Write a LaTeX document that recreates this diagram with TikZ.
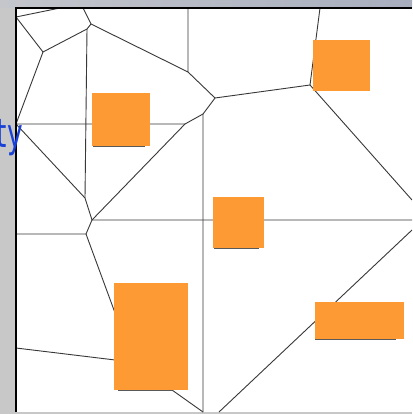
\documentclass[tikz,border=0pt]{standalone}
\usepackage{fontspec}
\usepackage{graphicx}
\newfontfamily\slidefont{DejaVu Sans}
\definecolor{boxorange}{RGB}{254,154,52}
\definecolor{slideblue}{RGB}{25,65,215}
\definecolor{stripgray}{RGB}{200,200,200}
\definecolor{barleft}{RGB}{196,198,204}
\definecolor{barright}{RGB}{168,174,190}
\begin{document}
\begin{tikzpicture}[x=1pt,y=-1pt,
  vline/.style={draw=black!78,line width=0.9pt,line join=round},
  border/.style={draw=black,line width=1.2pt},
  obst/.style={fill=boxorange,draw=none,inner sep=0,outer sep=0,anchor=north west},
  shadowline/.style={draw=black!65,line width=0.8pt}]
\useasboundingbox (0,0) rectangle (412,414);
\begin{scope}
\clip (0,0) rectangle (412,414);
% background
\fill[stripgray] (0,0) rectangle (412,414);
\shade[left color=barleft,right color=barright] (0,0) rectangle (412,7.5);
\fill[white] (16,8) rectangle (412,412);
% vertices
\coordinate (p1) at (16,17);
\coordinate (p2) at (60,8);
\coordinate (b) at (43,52);
\coordinate (cp) at (87,29);
\coordinate (c) at (91,24);
\coordinate (ctop) at (83,8);
\coordinate (j) at (188,72);
\coordinate (jtop) at (188,8);
\coordinate (d) at (215,98);
\coordinate (e) at (310,85);
\coordinate (etop) at (320,8);
\coordinate (eright) at (412,200);
\coordinate (k) at (203,114);
\coordinate (kbot) at (203,412);
\coordinate (h) at (185,124);
\coordinate (l) at (16,124);
\coordinate (i) at (85,198);
\coordinate (f) at (92,220);
\coordinate (fright) at (412,220);
\coordinate (g) at (86,234);
\coordinate (gleft) at (16,234);
\coordinate (gdown) at (125,340);
\coordinate (m1) at (16,348);
\coordinate (m2) at (140,363);
\coordinate (n1) at (172,390);
\coordinate (n2) at (203,412);
\coordinate (q1) at (412,230);
\coordinate (q2) at (219,412);
% voronoi edges
\draw[vline] (p1) -- (p2);
\draw[vline] (p1) -- (b) -- (cp) -- (c) -- (ctop);
\draw[vline] (c) -- (j) -- (jtop);
\draw[vline] (j) -- (d) -- (e) -- (etop);
\draw[vline] (e) -- (eright);
\draw[vline] (d) -- (k) -- (kbot);
\draw[vline] (k) -- (h) -- (l);
\draw[vline] (h) -- (f);
\draw[vline] (b) -- (l) -- (i);
\draw[vline] (cp) -- (i) -- (f) -- (fright);
\draw[vline] (f) -- (g) -- (gleft);
\draw[vline] (g) -- (gdown);
\draw[vline] (m1) -- (m2);
\draw[vline] (n1) -- (n2);
\draw[vline] (q1) -- (q2);
% obstacles
\node[obst,minimum width=58,minimum height=53] (r1) at (92,93) {};
\node[obst,minimum width=57,minimum height=51] (r2) at (313,40) {};
\node[obst,minimum width=51,minimum height=51] (r3) at (213,197) {};
\node[obst,minimum width=74,minimum height=107] (r4) at (114,283) {};
\node[obst,minimum width=89,minimum height=37] (r5) at (315,302) {};
\draw[shadowline] (93,146.5) -- (145,146.5);
\draw[shadowline] (214,248.5) -- (259,248.5);
\draw[shadowline] (118,390.5) -- (172,390.5);
\draw[shadowline] (315,339.5) -- (396,339.5);
% panel border
\draw[border] (16,412) -- (16,8) -- (412,8);
% slide text
\node[anchor=base east,inner sep=0,text=slideblue,font=\slidefont\fontsize{40}{40}\selectfont] (txt) at (23,147) {\scalebox{0.66}[1]{ty}};
\end{scope}
\end{tikzpicture}
\end{document}
